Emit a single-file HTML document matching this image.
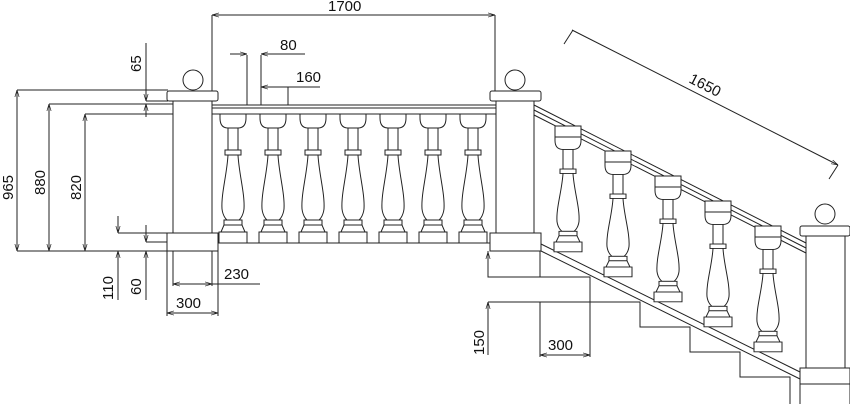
<!DOCTYPE html>
<html><head><meta charset="utf-8"><style>
html,body{margin:0;padding:0;background:#fff;}
svg{display:block;}
text{font-family:"Liberation Sans",sans-serif;font-size:15px;fill:#111;}
</style></head><body>
<svg width="850" height="404" viewBox="0 0 850 404" xmlns="http://www.w3.org/2000/svg">
<defs>
<g id="bal" fill="#fff" stroke="#222" stroke-width="1">
<path d="M-13,0 L13,0 L13,4 Q13,14 5,14 L-5,14 Q-13,14 -13,4 Z"/>
<rect x="-5" y="14" width="10" height="22"/>
<rect x="-8" y="36" width="16" height="5"/>
<path d="M-5,41 C-6,60 -12,80 -11,95 C-10,103 -6,106 -6,106 L6,106 C6,106 10,103 11,95 C12,80 6,60 5,41 Z"/>
<rect x="-9" y="106" width="18" height="5"/>
<path d="M-9,111 L-12,118 L12,118 L9,111 Z"/>
<rect x="-14" y="118" width="28" height="11"/>
</g>
<marker id="ar" viewBox="0 0 10 10" refX="10" refY="5" markerWidth="7" markerHeight="7" orient="auto-start-reverse"><path d="M0,2 L10,5 L0,8" fill="none" stroke="#222"/></marker>
</defs>
<g stroke="#222" stroke-width="1" fill="none">
<!-- 1700 dimension -->
<line x1="212" y1="15" x2="495" y2="15" marker-start="url(#ar)" marker-end="url(#ar)"/>
<line x1="212" y1="15" x2="212" y2="105"/>
<line x1="495" y1="15" x2="495" y2="92"/>
<!-- 80 / 160 -->
<line x1="247" y1="55" x2="247" y2="105"/>
<line x1="261" y1="55" x2="261" y2="105"/>
<line x1="230" y1="54" x2="247" y2="54" marker-end="url(#ar)"/>
<line x1="261" y1="54" x2="305" y2="54" marker-start="url(#ar)"/>
<line x1="288" y1="87" x2="288" y2="105"/>
<line x1="261" y1="87" x2="288" y2="87" marker-start="url(#ar)"/>
<line x1="288" y1="87" x2="320" y2="87"/>
<!-- rail flat -->
<line x1="212" y1="105" x2="496" y2="105"/>
<line x1="212" y1="108" x2="496" y2="108"/>
<line x1="212" y1="114" x2="496" y2="114"/>
<!-- ground -->
<line x1="17" y1="251" x2="167" y2="251"/>
<line x1="218" y1="243" x2="490" y2="243"/>
<!-- left dims -->
<line x1="17" y1="90" x2="168" y2="90"/>
<line x1="49" y1="104" x2="173" y2="104"/>
<line x1="85" y1="114" x2="173" y2="114"/>
<line x1="17" y1="90" x2="17" y2="251" marker-start="url(#ar)" marker-end="url(#ar)"/>
<line x1="49" y1="104" x2="49" y2="251" marker-start="url(#ar)" marker-end="url(#ar)"/>
<line x1="85" y1="114" x2="85" y2="251" marker-start="url(#ar)" marker-end="url(#ar)"/>
<line x1="146" y1="101" x2="168" y2="101"/>
<line x1="146" y1="43" x2="146" y2="101" marker-end="url(#ar)"/>
<line x1="146" y1="104" x2="146" y2="117" marker-start="url(#ar)"/>
<line x1="118" y1="233" x2="167" y2="233"/>
<line x1="146" y1="242" x2="167" y2="242"/>
<line x1="118" y1="216" x2="118" y2="233" marker-end="url(#ar)"/>
<line x1="118" y1="251" x2="118" y2="300" marker-start="url(#ar)"/>
<line x1="146" y1="225" x2="146" y2="242" marker-end="url(#ar)"/>
<line x1="146" y1="251" x2="146" y2="300" marker-start="url(#ar)"/>
<!-- 230 / 300 -->
<line x1="173" y1="251" x2="173" y2="286"/>
<line x1="212" y1="251" x2="212" y2="286"/>
<line x1="167" y1="251" x2="167" y2="316"/>
<line x1="218" y1="251" x2="218" y2="316"/>
<line x1="173" y1="284" x2="212" y2="284" marker-start="url(#ar)" marker-end="url(#ar)"/>
<line x1="212" y1="284" x2="260" y2="284"/>
<line x1="167" y1="313" x2="218" y2="313" marker-start="url(#ar)" marker-end="url(#ar)"/>
</g>
<!-- flat balusters -->
<use href="#bal" x="233" y="114"/><use href="#bal" x="273" y="114"/><use href="#bal" x="313" y="114"/>
<use href="#bal" x="353" y="114"/><use href="#bal" x="393" y="114"/><use href="#bal" x="433" y="114"/><use href="#bal" x="473" y="114"/>
<g stroke="#222" stroke-width="1" fill="#fff">
<!-- left post -->
<rect x="173" y="101" width="39" height="132"/>
<rect x="167" y="91" width="51" height="10" rx="2"/>
<rect x="167" y="233" width="51" height="18"/>
<circle cx="193" cy="80" r="10"/>
<!-- right post -->
<rect x="496" y="101" width="38" height="132"/>
<rect x="490" y="91" width="51" height="10" rx="2"/>
<rect x="490" y="233" width="51" height="18"/>
<circle cx="515" cy="80" r="10"/>
</g>
<g stroke="#222" stroke-width="1" fill="none">
<!-- stair rail -->
<line x1="534" y1="105" x2="806" y2="243"/>
<line x1="534" y1="110" x2="806" y2="248"/>
<line x1="534" y1="115" x2="806" y2="253"/>
<!-- steps -->
<polyline points="488,251 488,277 590,277 590,302 640,302 640,327 690,327 690,352 740,352 740,377 790,377 790,404"/>
<line x1="488" y1="302" x2="640" y2="302"/>
<line x1="540" y1="251" x2="540" y2="277"/>
<line x1="540" y1="302" x2="540" y2="357"/>
<line x1="590" y1="302" x2="590" y2="357"/>
<line x1="540" y1="355" x2="590" y2="355" marker-start="url(#ar)" marker-end="url(#ar)"/>
<line x1="488" y1="252" x2="488" y2="277" marker-start="url(#ar)"/>
<line x1="488" y1="302" x2="488" y2="355" marker-start="url(#ar)"/>
<!-- stringer -->
<line x1="541" y1="244" x2="800" y2="372"/>
<line x1="541" y1="251" x2="800" y2="379"/>
<!-- 1650 -->
<line x1="572" y1="30" x2="838" y2="165" marker-end="url(#ar)"/>
<line x1="564" y1="44" x2="573" y2="30"/>
<line x1="829" y1="179" x2="838" y2="165"/>
</g>
<!-- stair balusters -->
<g stroke="#222" stroke-width="1" fill="#fff">
<rect x="555" y="126" width="26" height="11"/>
<rect x="605" y="151" width="26" height="11"/>
<rect x="655" y="176" width="26" height="11"/>
<rect x="705" y="201" width="26" height="11"/>
<rect x="755" y="226" width="26" height="11"/>
</g>
<use href="#bal" transform="translate(568,137) scale(1,0.89)"/>
<use href="#bal" transform="translate(618,162) scale(1,0.89)"/>
<use href="#bal" transform="translate(668,187) scale(1,0.89)"/>
<use href="#bal" transform="translate(718,212) scale(1,0.89)"/>
<use href="#bal" transform="translate(768,237) scale(1,0.89)"/>
<g stroke="#222" stroke-width="1" fill="#fff">
<rect x="806" y="236" width="39" height="132"/>
<rect x="800" y="226" width="50" height="10" rx="2"/>
<rect x="800" y="368" width="50" height="16"/>
<rect x="800" y="384" width="50" height="22"/>
<circle cx="825" cy="214" r="10"/>
</g>
<!-- labels -->
<text x="328" y="11">1700</text>
<text x="280" y="50">80</text>
<text x="296" y="82">160</text>
<text x="224" y="279">230</text>
<text x="176" y="308">300</text>
<text x="548" y="350">300</text>
<text transform="translate(141,72) rotate(-90)">65</text>
<text transform="translate(13,200) rotate(-90)">965</text>
<text transform="translate(45,195) rotate(-90)">880</text>
<text transform="translate(81,200) rotate(-90)">820</text>
<text transform="translate(113,300) rotate(-90)">110</text>
<text transform="translate(141,295) rotate(-90)">60</text>
<text transform="translate(484,355) rotate(-90)">150</text>
<text transform="translate(688,82) rotate(27)">1650</text>
</svg>
</body></html>
